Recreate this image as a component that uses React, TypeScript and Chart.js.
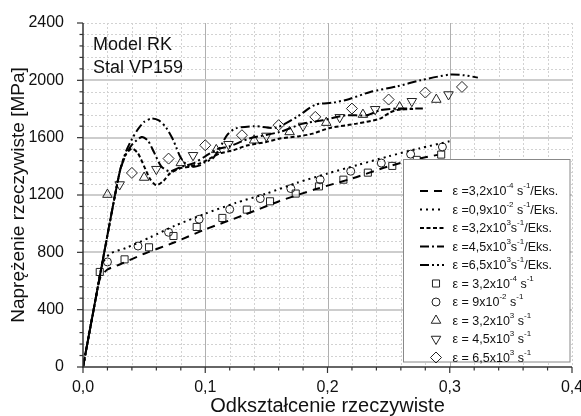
import { useEffect, useRef } from 'react';
import { Chart, registerables } from 'chart.js';

Chart.register(...registerables);

const FONT = 'Arial, "Liberation Sans", sans-serif';

// ---- axis ticks
const xTickValues = [0, 0.1, 0.2, 0.3, 0.4];
const yTickValues = [0, 400, 800, 1200, 1600, 2000, 2400];
const xTitle = 'Odkształcenie rzeczywiste';
const yTitle = 'Naprężenie rzeczywiste [MPa]';
const noteLines = ['Model RK', 'Stal VP159'];

// ---- model curves (Eks.)
const eks1X = [0, 0.01, 0.014, 0.02, 0.03, 0.05, 0.075, 0.1, 0.13, 0.16, 0.19, 0.22, 0.25, 0.27, 0.29];
const eks1Y = [0, 460, 620, 680, 715, 790, 870, 960, 1055, 1155, 1240, 1315, 1400, 1445, 1480];

const eks2X = [0, 0.01, 0.016, 0.022, 0.035, 0.055, 0.075, 0.1, 0.125, 0.15, 0.175, 0.2, 0.225, 0.25, 0.275, 0.3];
const eks2Y = [0, 460, 720, 790, 830, 905, 985, 1070, 1145, 1210, 1285, 1350, 1410, 1470, 1525, 1575];

const eks3X = [0, 0.01, 0.02, 0.03, 0.034, 0.04, 0.045, 0.05, 0.055, 0.06, 0.066, 0.071, 0.079, 0.088, 0.095, 0.101, 0.112, 0.123, 0.134, 0.15, 0.161, 0.177, 0.188, 0.202, 0.224, 0.243, 0.251, 0.258, 0.27];
const eks3Y = [0, 460, 920, 1360, 1470, 1524, 1490, 1400, 1310, 1268, 1300, 1349, 1385, 1400, 1419, 1442, 1490, 1512, 1545, 1570, 1594, 1610, 1628, 1668, 1698, 1733, 1775, 1795, 1800];

const eks4X = [0, 0.01, 0.02, 0.03, 0.035, 0.04, 0.048, 0.053, 0.058, 0.064, 0.071, 0.08, 0.09, 0.1, 0.11, 0.12, 0.136, 0.161, 0.18, 0.196, 0.215, 0.232, 0.243, 0.256, 0.278];
const eks4Y = [0, 460, 920, 1360, 1480, 1550, 1605, 1580, 1500, 1400, 1365, 1395, 1420, 1470, 1520, 1540, 1594, 1640, 1698, 1721, 1756, 1756, 1791, 1803, 1803];

const eks5X = [0, 0.01, 0.02, 0.03, 0.035, 0.04, 0.045, 0.05, 0.056, 0.062, 0.068, 0.074, 0.08, 0.087, 0.095, 0.1, 0.106, 0.112, 0.118, 0.125, 0.14, 0.158, 0.175, 0.19, 0.205, 0.218, 0.235, 0.257, 0.276, 0.3, 0.312, 0.323];
const eks5Y = [0, 460, 920, 1360, 1500, 1590, 1660, 1710, 1733, 1720, 1670, 1580, 1460, 1396, 1405, 1430, 1454, 1530, 1620, 1665, 1680, 1670, 1745, 1830, 1845, 1870, 1919, 1958, 2000, 2040, 2035, 2019];

// ---- experimental points
const exp1X = [0.0137, 0.034, 0.054, 0.074, 0.093, 0.114, 0.134, 0.153, 0.174, 0.193, 0.213, 0.233, 0.253, 0.273, 0.293];
const exp1Y = [663, 751, 835, 914, 977, 1040, 1098, 1156, 1210, 1260, 1307, 1356, 1403, 1445, 1482];

const exp2X = [0.02, 0.045, 0.07, 0.095, 0.12, 0.145, 0.17, 0.194, 0.219, 0.244, 0.268, 0.294];
const exp2Y = [733, 844, 940, 1031, 1100, 1175, 1245, 1307, 1366, 1423, 1485, 1535];

const exp3X = [0.02, 0.05, 0.08, 0.109, 0.14, 0.169, 0.199, 0.229, 0.259, 0.289];
const exp3Y = [1203, 1322, 1424, 1515, 1582, 1640, 1705, 1761, 1814, 1866];

const exp4X = [0.03, 0.06, 0.09, 0.119, 0.15, 0.18, 0.21, 0.239, 0.269, 0.299];
const exp4Y = [1273, 1380, 1477, 1554, 1612, 1682, 1742, 1798, 1854, 1901];

const exp5X = [0.04, 0.07, 0.1, 0.13, 0.16, 0.19, 0.22, 0.25, 0.28, 0.31];
const exp5Y = [1354, 1454, 1547, 1617, 1687, 1745, 1803, 1866, 1915, 1954];

// ---- legend labels: [text, isSuperscript]
type Part = [string, boolean];
const legendLabels: Part[][] = [
  [['ε =3,2x10', false], ['-4', true], [' s', false], ['-1', true], ['/Eks.', false]],
  [['ε =0,9x10', false], ['-2', true], [' s', false], ['-1', true], ['/Eks.', false]],
  [['ε =3,2x10', false], ['3', true], ['s', false], ['-1', true], ['/Eks.', false]],
  [['ε =4,5x10', false], ['3', true], ['s', false], ['-1', true], ['/Eks.', false]],
  [['ε =6,5x10', false], ['3', true], ['s', false], ['-1', true], ['/Eks.', false]],
  [['ε = 3,2x10', false], ['-4', true], [' s', false], ['-1', true]],
  [['ε = 9x10', false], ['-2', true], [' s', false], ['-1', true]],
  [['ε = 3,2x10', false], ['3', true], [' s', false], ['-1', true]],
  [['ε = 4,5x10', false], ['3', true], [' s', false], ['-1', true]],
  [['ε = 6,5x10', false], ['3', true], [' s', false], ['-1', true]],
];

const toPts = (xs: number[], ys: number[]) => xs.map((x, i) => ({ x, y: ys[i] }));

const lineDashes = [[8, 6], [2, 4], [4, 2.5], [9, 3, 2, 3], [9, 3, 2, 3, 2, 3]];
const markerStyles: any[] = [
  { pointStyle: 'rect', radius: 5, rotation: 0 },
  { pointStyle: 'circle', radius: 4, rotation: 0 },
  { pointStyle: 'triangle', radius: 5.5, rotation: 0 },
  { pointStyle: 'triangle', radius: 5.5, rotation: 180 },
  { pointStyle: 'rectRot', radius: 5.5, rotation: 0 },
];

function drawMarker(ctx: CanvasRenderingContext2D, m: any, x: number, y: number) {
  const r = m.radius;
  ctx.beginPath();
  if (m.pointStyle === 'rect') {
    const s = Math.SQRT1_2 * r;
    ctx.rect(x - s, y - s, 2 * s, 2 * s);
  } else if (m.pointStyle === 'circle') {
    ctx.arc(x, y, r, 0, Math.PI * 2);
  } else if (m.pointStyle === 'triangle') {
    let rad = (m.rotation * Math.PI) / 180;
    ctx.moveTo(x + Math.sin(rad) * r, y - Math.cos(rad) * r);
    rad += (2 * Math.PI) / 3;
    ctx.lineTo(x + Math.sin(rad) * r, y - Math.cos(rad) * r);
    rad += (2 * Math.PI) / 3;
    ctx.lineTo(x + Math.sin(rad) * r, y - Math.cos(rad) * r);
    ctx.closePath();
  } else {
    ctx.moveTo(x - r, y);
    ctx.lineTo(x, y - r);
    ctx.lineTo(x + r, y);
    ctx.lineTo(x, y + r);
    ctx.closePath();
  }
  ctx.stroke();
}

export default function App() {
  const ref = useRef<HTMLCanvasElement>(null);

  useEffect(() => {
    if (!ref.current) return;
    const lineSets = [
      [eks1X, eks1Y], [eks2X, eks2Y], [eks3X, eks3Y], [eks4X, eks4Y], [eks5X, eks5Y],
    ];
    const pointSets = [
      [exp1X, exp1Y], [exp2X, exp2Y], [exp3X, exp3Y], [exp4X, exp4Y], [exp5X, exp5Y],
    ];
    const datasets: any[] = [];
    lineSets.forEach(([xs, ys], i) => {
      datasets.push({
        data: toPts(xs, ys),
        showLine: true,
        borderColor: '#000',
        borderWidth: 2,
        borderDash: lineDashes[i],
        pointRadius: 0,
        tension: 0.25,
        fill: false,
      });
    });
    pointSets.forEach(([xs, ys], i) => {
      const m = markerStyles[i];
      datasets.push({
        data: toPts(xs, ys),
        showLine: false,
        borderColor: '#222',
        backgroundColor: 'rgba(0,0,0,0)',
        pointStyle: m.pointStyle,
        pointRadius: m.radius,
        pointRotation: m.rotation,
        pointBorderWidth: 1,
        pointBorderColor: '#222',
        pointBackgroundColor: 'rgba(0,0,0,0)',
      });
    });

    const decorPlugin = {
      id: 'decor',
      beforeDatasetsDraw(chart: any) {
        const { ctx, chartArea: a, scales } = chart;
        const xs = scales.x, ys = scales.y;
        ctx.save();
        const seg = (x1: number, y1: number, x2: number, y2: number) => {
          ctx.beginPath(); ctx.moveTo(x1, y1); ctx.lineTo(x2, y2); ctx.stroke();
        };
        ctx.strokeStyle = '#d2d2d2';
        ctx.lineWidth = 1;
        ctx.setLineDash([2, 2]);
        for (let i = 1; i <= 20; i++) {
          if (i % 5 === 0 && i < 20) continue;
          const px = Math.round(xs.getPixelForValue(i * 0.02)) + 0.5;
          seg(px, a.top, px, a.bottom);
        }
        for (let i = 1; i <= 30; i++) {
          if (i % 5 === 0 && i < 30) continue;
          const py = Math.round(ys.getPixelForValue(i * 80)) + 0.5;
          seg(a.left, py, a.right, py);
        }
        ctx.setLineDash([]);
        ctx.strokeStyle = '#b0b0b0';
        ctx.lineWidth = 1;
        for (const v of xTickValues.slice(1, -1)) {
          const px = Math.round(xs.getPixelForValue(v)) + 0.5;
          seg(px, a.top, px, a.bottom);
        }
        ctx.strokeStyle = '#cdcdcd';
        ctx.lineWidth = 2;
        for (const v of yTickValues.slice(1, -1)) {
          const py = Math.round(ys.getPixelForValue(v));
          seg(a.left, py, a.right, py);
        }
        ctx.restore();
      },
      afterDatasetsDraw(chart: any) {
        const { ctx, chartArea: a, scales } = chart;
        const xs = scales.x, ys = scales.y;
        ctx.save();
        const seg = (x1: number, y1: number, x2: number, y2: number) => {
          ctx.beginPath(); ctx.moveTo(x1, y1); ctx.lineTo(x2, y2); ctx.stroke();
        };
        ctx.strokeStyle = '#333';
        ctx.lineWidth = 1.5;
        ctx.setLineDash([]);
        seg(a.left, a.top, a.left, a.bottom + 0.75);
        seg(a.left - 0.75, a.bottom, a.right, a.bottom);
        ctx.lineWidth = 1.2;
        for (let i = 0; i <= 30; i++) {
          const py = ys.getPixelForValue(i * 80);
          const len = i % 5 === 0 ? 6 : 3.5;
          seg(a.left - len, py, a.left, py);
        }
        for (let i = 0; i <= 20; i++) {
          const px = xs.getPixelForValue(i * 0.02);
          const len = i % 5 === 0 ? 6 : 3.5;
          seg(px, a.bottom, px, a.bottom + len);
        }
        ctx.fillStyle = '#111';
        ctx.font = `18px ${FONT}`;
        ctx.textBaseline = 'alphabetic';
        ctx.textAlign = 'left';
        noteLines.forEach((t, i) => ctx.fillText(t, a.left + 10, 50 + i * 23));
        ctx.restore();
      },
      afterDraw(chart: any) {
        const { ctx } = chart;
        ctx.save();
        const bx = 403.5, by = 159.5, bw = 166.5, bh = 202.5;
        ctx.fillStyle = '#fff';
        ctx.fillRect(bx, by, bw, bh);
        ctx.strokeStyle = '#888';
        ctx.lineWidth = 1;
        ctx.setLineDash([]);
        ctx.strokeRect(bx, by, bw, bh);
        const rowY0 = 191, rowH = 18.5;
        legendLabels.forEach((parts, i) => {
          const y = rowY0 + i * rowH;
          if (i < 5) {
            ctx.strokeStyle = '#000';
            ctx.lineWidth = 2;
            ctx.setLineDash(lineDashes[i]);
            ctx.beginPath(); ctx.moveTo(420, y); ctx.lineTo(444, y); ctx.stroke();
            ctx.setLineDash([]);
          } else {
            ctx.strokeStyle = '#222';
            ctx.lineWidth = 1;
            drawMarker(ctx, markerStyles[i - 5], 436, y);
          }
          let x = 452.5;
          ctx.fillStyle = '#111';
          ctx.textBaseline = 'middle';
          ctx.textAlign = 'left';
          for (const [t, sup] of parts) {
            if (sup) {
              ctx.font = `8px ${FONT}`;
              ctx.fillText(t, x, y - 5);
            } else {
              ctx.font = `12.5px ${FONT}`;
              ctx.fillText(t, x, y + 1);
            }
            x += ctx.measureText(t).width;
          }
        });
        ctx.restore();
      },
    };

    const chart = new Chart(ref.current, {
      type: 'scatter',
      data: { datasets },
      options: {
        animation: false,
        responsive: false,
        devicePixelRatio: 1,
        layout: { padding: { left: 0, right: 9, top: 23, bottom: 0 } },
        plugins: { legend: { display: false }, tooltip: { enabled: false } },
        scales: {
          x: {
            type: 'linear',
            min: 0,
            max: 0.4,
            afterFit: (s: any) => { s.height = 49; s.paddingLeft = 0; s.paddingRight = 0; },
            afterBuildTicks: (s: any) => { s.ticks = xTickValues.map((v) => ({ value: v })); },
            grid: { display: false },
            border: { display: false },
            ticks: {
              padding: 3,
              color: '#111',
              font: { family: FONT, size: 16 },
              callback: (v: any) => Number(v).toFixed(1).replace('.', ','),
            },
            title: {
              display: true,
              text: xTitle,
              color: '#111',
              font: { family: FONT, size: 20, lineHeight: 1 },
              padding: { top: 0, bottom: 0 },
            },
          },
          y: {
            type: 'linear',
            min: 0,
            max: 2400,
            afterFit: (s: any) => { s.width = 83; s.paddingTop = 0; s.paddingBottom = 0; },
            afterBuildTicks: (s: any) => { s.ticks = yTickValues.map((v) => ({ value: v })); },
            grid: { display: false },
            border: { display: false },
            ticks: {
              padding: 11,
              color: '#111',
              font: { family: FONT, size: 16 },
              callback: (v: any) => String(v),
            },
            title: {
              display: true,
              text: yTitle,
              color: '#111',
              font: { family: FONT, size: 19 },
              padding: { top: 7, bottom: 0 },
            },
          },
        },
      },
      plugins: [decorPlugin],
    });
    return () => chart.destroy();
  }, []);

  return (
    <div style={{ position: 'absolute', left: 0, top: 0, width: 581, height: 416, background: '#fff' }}>
      <canvas ref={ref} width={581} height={416} />
    </div>
  );
}
